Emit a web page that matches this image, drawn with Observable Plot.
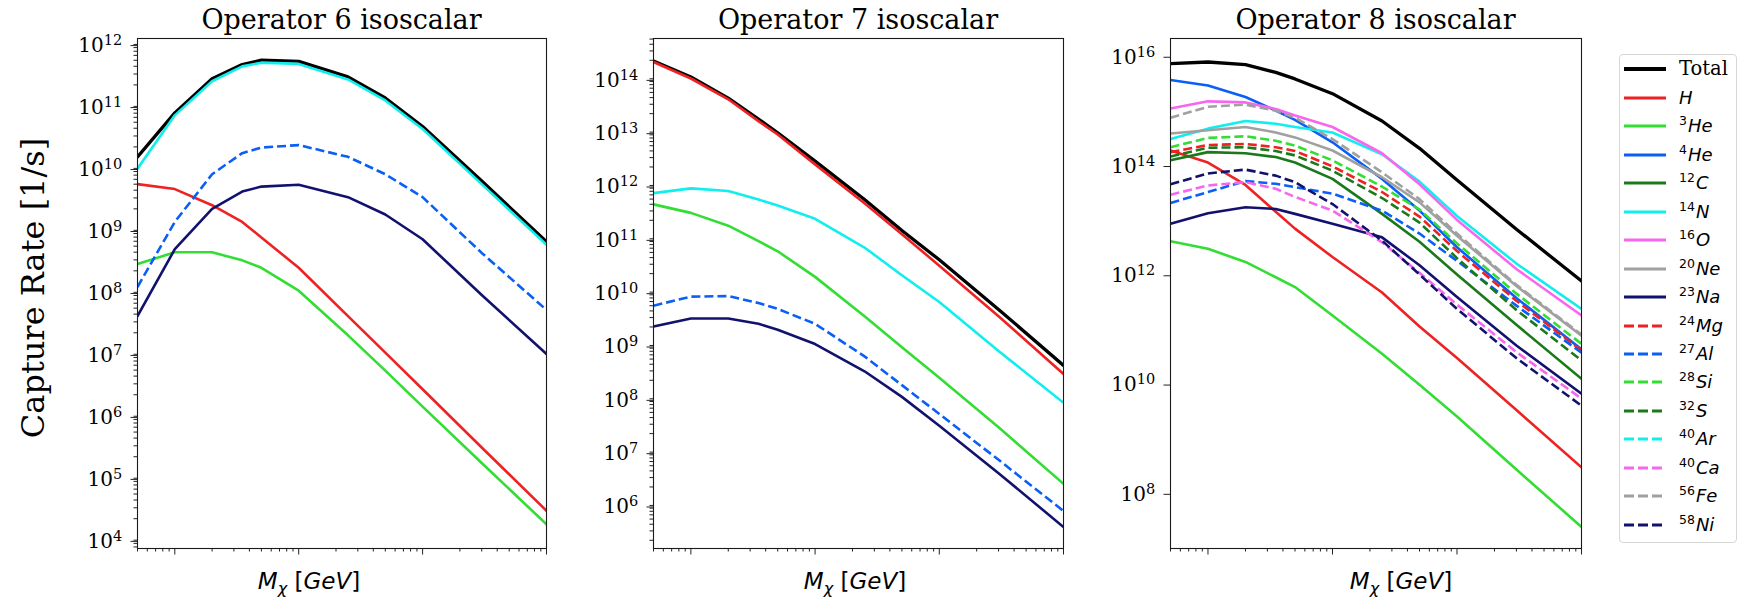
<!DOCTYPE html>
<html><head><meta charset="utf-8">
<script src="https://cdn.jsdelivr.net/npm/d3@7"></script>
<script src="https://cdn.jsdelivr.net/npm/@observablehq/plot@0.6"></script>
<style>
html,body{margin:0;padding:0;background:#fff;}
#root{position:relative;width:1742px;height:603px;overflow:hidden;background:#fff;}
.abs{position:absolute;}
.title{font-family:"DejaVu Serif";font-size:27px;line-height:27px;white-space:nowrap;transform:translateX(-50%);color:#000;}
.xlab{font-family:"DejaVu Sans";font-size:23px;line-height:23px;white-space:nowrap;transform:translateX(-50%);color:#000;}
.ylab{font-family:"DejaVu Serif";font-size:32px;line-height:32px;white-space:nowrap;transform:translate(-50%,-50%) rotate(-90deg);color:#000;}
.legbox{border:1px solid #d6d6d6;border-radius:4px;background:#fff;}
.legtxt{font-family:"DejaVu Sans";font-size:18px;line-height:20px;white-space:nowrap;color:#000;}
.legtxt i{font-style:oblique;}
.legtxt .sup{font-size:12.5px;position:relative;top:-7px;font-style:normal;margin-right:1px;}
.legtxt.serif{font-family:"DejaVu Serif";font-size:19.5px;}
</style></head>
<body><div id="root"></div>
<script>
// ---------------- data ----------------
const mass = [5, 10, 20, 35, 50, 100, 250, 500, 1000, 3000, 10000]; // GeV

const speciesKeys   = ["Total","H","He3","He4","C12","N14","O16","Ne20","Na23","Mg24","Al27","Si28","S32","Ar40","Ca40","Fe56","Ni58"];
const speciesSymbol = ["Total","H","He","He","C","N","O","Ne","Na","Mg","Al","Si","S","Ar","Ca","Fe","Ni"];
const speciesA      = ["","","3","4","12","14","16","20","23","24","27","28","32","40","40","56","58"];
const speciesColor  = ["#000000","#ee2222","#33dd33","#0a5ff5","#1a7a1a","#11eeee","#f866f0","#a0a0a0","#12126e",
                       "#ee2222","#0a5ff5","#33dd33","#1a7a1a","#11eeee","#f866f0","#a0a0a0","#12126e"];
const speciesDashed = [false,false,false,false,false,false,false,false,false,true,true,true,true,true,true,true,true];

const panelTitles = ["Operator 6 isoscalar", "Operator 7 isoscalar", "Operator 8 isoscalar"];

// log10 of the capture rate [1/s], one value per mass point
// Operator 6
const op6_Total = [10.14, 10.85, 11.40, 11.63, 11.70, 11.68, 11.43, 11.09, 10.63, 9.75, 8.77];
const op6_H     = [9.70, 9.62, 9.36, 9.09, 8.84, 8.35, 7.57, 6.98, 6.39, 5.45, 4.43];
const op6_He3   = [8.41, 8.60, 8.60, 8.47, 8.35, 7.98, 7.26, 6.69, 6.11, 5.20, 4.21];
const op6_N14   = [9.95, 10.81, 11.36, 11.60, 11.66, 11.64, 11.39, 11.05, 10.59, 9.70, 8.72];
const op6_Na23  = [7.57, 8.65, 9.30, 9.58, 9.66, 9.69, 9.49, 9.21, 8.81, 7.91, 6.96];
const op6_Al27  = [8.04, 9.09, 9.86, 10.20, 10.29, 10.33, 10.14, 9.86, 9.49, 8.59, 7.67];
// Operator 7
const op7_Total = [14.29, 13.99, 13.59, 13.20, 12.94, 12.41, 11.69, 11.11, 10.56, 9.63, 8.58];
const op7_H     = [14.27, 13.96, 13.57, 13.16, 12.91, 12.35, 11.62, 11.04, 10.45, 9.50, 8.42];
const op7_He3   = [11.60, 11.44, 11.20, 10.91, 10.72, 10.24, 9.50, 8.92, 8.35, 7.42, 6.36];
const op7_N14   = [11.81, 11.90, 11.85, 11.69, 11.58, 11.33, 10.79, 10.27, 9.77, 8.85, 7.88];
const op7_Na23  = [9.31, 9.46, 9.46, 9.36, 9.25, 8.98, 8.47, 7.99, 7.45, 6.56, 5.55];
const op7_Al27  = [9.70, 9.87, 9.88, 9.75, 9.64, 9.36, 8.75, 8.21, 7.67, 6.81, 5.85];
// Operator 8
const op8_Total = [15.81, 15.84, 15.79, 15.65, 15.53, 15.26, 14.76, 14.26, 13.68, 12.78, 11.83];
const op8_H     = [14.22, 14.00, 13.59, 13.10, 12.79, 12.27, 11.62, 11.00, 10.42, 9.47, 8.42];
const op8_He3   = [12.56, 12.42, 12.18, 11.90, 11.72, 11.20, 10.50, 9.93, 9.35, 8.38, 7.33];
const op8_He4   = [15.51, 15.41, 15.20, 14.95, 14.78, 14.37, 13.70, 13.12, 12.45, 11.52, 10.58];
const op8_C12   = [14.04, 14.19, 14.17, 14.10, 14.00, 13.70, 13.06, 12.55, 11.95, 11.03, 10.04];
const op8_N14   = [14.43, 14.62, 14.76, 14.71, 14.65, 14.55, 14.15, 13.65, 13.02, 12.15, 11.32];
const op8_O16   = [14.99, 15.12, 15.10, 14.98, 14.86, 14.65, 14.17, 13.60, 12.95, 12.05, 11.20];
const op8_Ne20  = [14.53, 14.59, 14.65, 14.55, 14.46, 14.22, 13.73, 13.27, 12.66, 11.74, 10.83];
const op8_Na23  = [12.88, 13.07, 13.18, 13.15, 13.06, 12.88, 12.63, 12.12, 11.54, 10.65, 9.77];
const op8_Mg24  = [14.19, 14.32, 14.34, 14.28, 14.21, 13.93, 13.46, 13.01, 12.38, 11.47, 10.56];
const op8_Al27  = [13.26, 13.46, 13.66, 13.61, 13.55, 13.43, 13.12, 12.70, 12.20, 11.38, 10.52];
const op8_Si28  = [14.28, 14.45, 14.48, 14.40, 14.31, 14.04, 13.56, 13.14, 12.52, 11.60, 10.68];
const op8_S32   = [14.11, 14.27, 14.28, 14.21, 14.13, 13.85, 13.35, 12.90, 12.25, 11.30, 10.38];
const op8_Ca40  = [13.41, 13.58, 13.64, 13.52, 13.37, 13.12, 12.54, 11.98, 11.40, 10.53, 9.68];
const op8_Fe56  = [14.82, 15.02, 15.06, 14.95, 14.82, 14.43, 13.82, 13.33, 12.70, 11.76, 10.85];
const op8_Ni58  = [13.60, 13.80, 13.87, 13.76, 13.64, 13.24, 12.57, 11.95, 11.32, 10.42, 9.55];

// axis ticks
const xMajorTicks = [10, 100, 1000, 10000];
const xMinorTicks = [5,6,7,8,9,20,30,40,50,60,70,80,90,200,300,400,500,600,700,800,900,2000,3000,4000,5000,6000,7000,8000,9000];
const op6YTicks = [1e4,1e5,1e6,1e7,1e8,1e9,1e10,1e11,1e12];
const op7YTicks = [1e6,1e7,1e8,1e9,1e10,1e11,1e12,1e13,1e14];
const op8YTicks = [1e8,1e10,1e12,1e14,1e16];
const op6YDomainExp = [3.82, 12.05];
const op7YDomainExp = [5.147, 14.71];
const op8YDomainExp = [6.935, 16.27];

// ---------------- build ----------------
const root = document.getElementById("root");
const SVGNS = "http://www.w3.org/2000/svg";

function minorTicks(lo, hi) {
  const out = [];
  for (let e = Math.floor(lo) - 1; e <= Math.ceil(hi); e++)
    for (let k = 2; k <= 9; k++) { const v = k * 10 ** e; if (Math.log10(v) > lo && Math.log10(v) < hi) out.push(v); }
  return out;
}

function rowsOf(logs) { return mass.map((m, i) => ({mass: m, rate: 10 ** logs[i]})); }

function makePanel({idx, frameLeft, frameRight, yExp, yMajor, withMinor, series}) {
  const ml = 90, mr = 12;
  const width = ml + (frameRight - frameLeft) + mr;
  const marks = [
    Plot.axisX({ticks: xMinorTicks, tickSize: 3.5, tickFormat: () => "", label: null, anchor: "bottom", stroke: "#222"}),
    Plot.axisX({ticks: xMajorTicks, tickSize: 6.5, tickFormat: () => "", label: null, anchor: "bottom", stroke: "#222"})
  ];
  if (withMinor) marks.push(Plot.axisY({ticks: minorTicks(yExp[0], yExp[1]), tickSize: 3.5, tickFormat: () => "", label: null, anchor: "left", stroke: "#222"}));
  marks.push(Plot.axisY({ticks: yMajor, tickSize: 6.5, tickPadding: 8.8, label: null, anchor: "left", stroke: "#222",
    tickFormat: d => "10^" + Math.round(Math.log10(d)), fontSize: 20, fill: "#000", dy: 4}));
  for (const [key, logs] of series) {
    const i = speciesKeys.indexOf(key);
    marks.push(Plot.line(rowsOf(logs), {
      x: "mass", y: "rate", stroke: speciesColor[i],
      strokeWidth: key === "Total" ? 3.3 : 2.6,
      strokeDasharray: speciesDashed[i] ? "9,4" : null,
      strokeLinecap: speciesDashed[i] ? "butt" : "round",
      strokeLinejoin: "round", clip: true
    }));
  }
  marks.push(Plot.frame({stroke: "#1a1a1a", strokeWidth: 1.1}));
  const svg = Plot.plot({
    width, height: 603,
    marginLeft: ml, marginRight: mr, marginTop: 38, marginBottom: 55,
    x: {type: "log", domain: [5, 10000]},
    y: {type: "log", domain: [10 ** yExp[0], 10 ** yExp[1]]},
    style: {fontFamily: "DejaVu Serif", fontSize: "20px", background: "transparent", overflow: "visible", color: "#000"},
    marks
  });
  svg.style.position = "absolute";
  svg.style.left = (frameLeft - ml) + "px";
  svg.style.top = "0px";
  // superscript exponents on y tick labels
  svg.querySelectorAll('g[aria-label="y-axis tick label"] text').forEach(t => {
    const s = t.textContent;
    const parts = s.split("^");
    if (parts.length === 2) {
      t.textContent = parts[0];
      const ts = document.createElementNS(SVGNS, "tspan");
      ts.setAttribute("dy", "-7");
      ts.setAttribute("font-size", "14.5px");
      ts.textContent = parts[1];
      t.appendChild(ts);
    }
  });
  root.appendChild(svg);

  const title = document.createElement("div");
  title.className = "abs title";
  title.style.left = ((frameLeft + frameRight) / 2) + "px";
  title.style.top = "6px";
  title.textContent = panelTitles[idx];
  root.appendChild(title);
}

makePanel({idx: 0, frameLeft: 137, frameRight: 546, yExp: op6YDomainExp, yMajor: op6YTicks, withMinor: true,
  series: [["Total", op6_Total], ["H", op6_H], ["He3", op6_He3], ["N14", op6_N14], ["Na23", op6_Na23], ["Al27", op6_Al27]]});
makePanel({idx: 1, frameLeft: 653, frameRight: 1063, yExp: op7YDomainExp, yMajor: op7YTicks, withMinor: true,
  series: [["Total", op7_Total], ["H", op7_H], ["He3", op7_He3], ["N14", op7_N14], ["Na23", op7_Na23], ["Al27", op7_Al27]]});
makePanel({idx: 2, frameLeft: 1170, frameRight: 1581, yExp: op8YDomainExp, yMajor: op8YTicks, withMinor: false,
  series: [["Total", op8_Total], ["H", op8_H], ["He3", op8_He3], ["He4", op8_He4], ["C12", op8_C12], ["N14", op8_N14],
           ["O16", op8_O16], ["Ne20", op8_Ne20], ["Na23", op8_Na23], ["Mg24", op8_Mg24], ["Al27", op8_Al27],
           ["Si28", op8_Si28], ["S32", op8_S32], ["Ca40", op8_Ca40], ["Fe56", op8_Fe56], ["Ni58", op8_Ni58]]});

// x labels
[309, 855, 1401].forEach(cx => {
  const d = document.createElement("div");
  d.className = "abs xlab";
  d.style.left = cx + "px";
  d.style.top = "570px";
  d.innerHTML = '<i style="font-style:oblique">M</i><span style="font-style:oblique;font-size:16px;position:relative;top:5px;">χ</span> [<i style="font-style:oblique">GeV</i>]';
  root.appendChild(d);
});

// y label
const yl = document.createElement("div");
yl.className = "abs ylab";
yl.style.left = "33px";
yl.style.top = "288px";
yl.textContent = "Capture Rate [1/s]";
root.appendChild(yl);

// legend
const box = document.createElement("div");
box.className = "abs legbox";
box.style.left = "1619px"; box.style.top = "54px"; box.style.width = "116px"; box.style.height = "487px";
root.appendChild(box);
speciesKeys.forEach((key, i) => {
  const y = 69.3 + i * 28.47;
  const s = document.createElementNS(SVGNS, "svg");
  s.setAttribute("width", 46); s.setAttribute("height", 10);
  s.style.position = "absolute"; s.style.left = "1623px"; s.style.top = (y - 5) + "px";
  const ln = document.createElementNS(SVGNS, "line");
  ln.setAttribute("x1", 1); ln.setAttribute("x2", 43); ln.setAttribute("y1", 5); ln.setAttribute("y2", 5);
  ln.setAttribute("stroke", speciesColor[i]);
  ln.setAttribute("stroke-width", key === "Total" ? 4 : 3);
  if (speciesDashed[i]) ln.setAttribute("stroke-dasharray", "10,4");
  s.appendChild(ln);
  root.appendChild(s);
  const t = document.createElement("div");
  t.className = "abs legtxt" + (key === "Total" ? " serif" : "");
  t.style.left = "1679px";
  t.style.top = (y - 10) + "px";
  if (key === "Total") t.textContent = "Total";
  else t.innerHTML = (speciesA[i] ? '<span class="sup">' + speciesA[i] + '</span>' : "") + "<i>" + speciesSymbol[i] + "</i>";
  root.appendChild(t);
});
</script>
</body></html>
